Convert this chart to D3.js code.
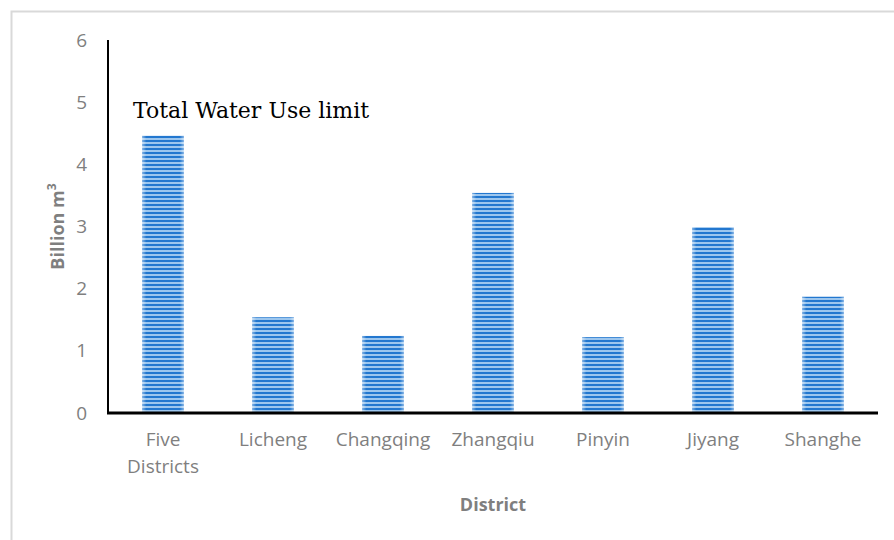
<!DOCTYPE html>
<html>
<head>
<meta charset="utf-8">
<script src="https://cdn.jsdelivr.net/npm/d3@7"></script>
<style>
  html, body { margin: 0; padding: 0; background: #fff; }
  svg { display: block; }
</style>
</head>
<body>
<svg id="chart" width="894" height="540"></svg>
<script>
// Total water use limit by district (billion m³)
const districts = ["Five Districts", "Licheng", "Changqing", "Zhangqiu", "Pinyin", "Jiyang", "Shanghe"];
const waterLimit = [4.46, 1.54, 1.24, 3.54, 1.22, 2.99, 1.87];
const yTicks = [0, 1, 2, 3, 4, 5, 6];

const svg = d3.select("#chart");
const W = 894, H = 540;
const margin = { left: 108, right: 16, top: 40, bottom: 127 };
const plotW = W - margin.left - margin.right;
const plotH = H - margin.top - margin.bottom;
const labelFont = "'Open Sans', sans-serif";

// outer frame (top and left edges visible)
svg.append("path")
  .attr("d", `M11.5,${H} V11.5 H${W}`)
  .attr("fill", "none")
  .attr("stroke", "#d9d9d9")
  .attr("stroke-width", 2);

// striped fill for the bars
const defs = svg.append("defs");
const pat = defs.append("pattern")
  .attr("id", "stripes")
  .attr("patternUnits", "userSpaceOnUse")
  .attr("width", 8).attr("height", 4);
pat.append("rect").attr("width", 8).attr("height", 4).attr("fill", "#9cc6ee");
pat.append("rect").attr("width", 8).attr("height", 2).attr("fill", "#2277cf");

const edge = defs.append("linearGradient").attr("id", "edgeFade").attr("x1", 0).attr("x2", 1);
edge.append("stop").attr("offset", 0).attr("stop-color", "#fff").attr("stop-opacity", 0.45);
edge.append("stop").attr("offset", 0.1).attr("stop-color", "#fff").attr("stop-opacity", 0);
edge.append("stop").attr("offset", 0.9).attr("stop-color", "#fff").attr("stop-opacity", 0);
edge.append("stop").attr("offset", 1).attr("stop-color", "#fff").attr("stop-opacity", 0.45);

const g = svg.append("g").attr("transform", `translate(${margin.left},${margin.top})`);

const x = d3.scaleBand().domain(districts).range([0, plotW]).paddingInner(0.62).paddingOuter(0.31);
const y = d3.scaleLinear().domain([0, 6]).range([plotH, 0]);

// bars
const bars = g.selectAll(".bar").data(districts.map((d, i) => ({ name: d, value: waterLimit[i] })))
  .enter().append("g").attr("class", "bar");
bars.append("rect")
  .attr("x", d => x(d.name))
  .attr("y", d => y(d.value))
  .attr("width", x.bandwidth())
  .attr("height", d => plotH - y(d.value))
  .attr("fill", "url(#stripes)");
bars.append("rect")
  .attr("x", d => x(d.name))
  .attr("y", d => y(d.value))
  .attr("width", x.bandwidth())
  .attr("height", d => plotH - y(d.value))
  .attr("fill", "url(#edgeFade)");

// y axis
const yAxis = g.append("g")
  .call(d3.axisLeft(y).tickValues(yTicks).tickSize(0).tickPadding(21).tickFormat(d3.format("d")));
yAxis.select(".domain").remove();
yAxis.selectAll("text")
  .attr("fill", "#7f7f7f")
  .style("font-family", labelFont)
  .style("font-size", "19px");
g.append("line")
  .attr("x1", 0).attr("x2", 0).attr("y1", 0).attr("y2", plotH)
  .attr("stroke", "#000").attr("stroke-width", 2);

// x axis
const xAxis = g.append("g").attr("transform", `translate(0,${plotH})`)
  .call(d3.axisBottom(x).tickSize(0).tickPadding(20));
xAxis.select(".domain").remove();
xAxis.selectAll("text")
  .attr("fill", "#7f7f7f")
  .style("font-family", labelFont)
  .style("font-size", "19px")
  .each(function(d) {
    const words = d.split(" ");
    if (words.length > 1) {
      const t = d3.select(this).text(null);
      words.forEach((w, i) => {
        t.append("tspan").attr("x", 0).attr("dy", i === 0 ? "0.71em" : "1.42em").text(w);
      });
      t.attr("dy", null);
    }
  });
g.append("line")
  .attr("x1", -1).attr("x2", plotW).attr("y1", plotH).attr("y2", plotH)
  .attr("stroke", "#000").attr("stroke-width", 3);

// titles
svg.append("text")
  .attr("transform", `translate(64,${margin.top + y(3)}) rotate(-90)`)
  .attr("text-anchor", "middle")
  .attr("fill", "#7f7f7f")
  .style("font-family", labelFont)
  .style("font-size", "18px")
  .style("font-weight", "bold")
  .html("Billion m<tspan dy='-8' font-size='12px'>3</tspan>");

svg.append("text")
  .attr("x", margin.left + plotW / 2)
  .attr("y", 511)
  .attr("text-anchor", "middle")
  .attr("fill", "#7f7f7f")
  .style("font-family", labelFont)
  .style("font-size", "18px")
  .style("font-weight", "bold")
  .text("District");

svg.append("text")
  .attr("x", 133)
  .attr("y", 118)
  .attr("fill", "#000")
  .style("font-family", "'DejaVu Serif', serif")
  .style("font-size", "22px")
  .text("Total Water Use limit");
</script>
</body>
</html>
